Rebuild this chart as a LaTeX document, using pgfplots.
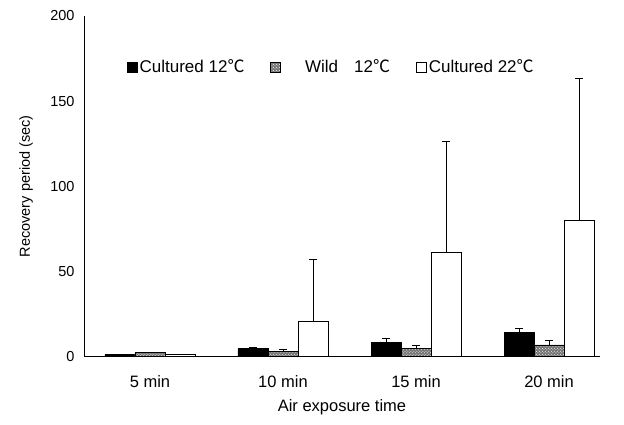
\documentclass[border=0pt]{standalone}
\usepackage{pgfplots}
\pgfplotsset{compat=1.18}
\usepackage{fontspec}
\setmainfont{Liberation Sans}
\newfontfamily\cjk{Noto Sans CJK KR}
\usetikzlibrary{patterns}
\newcommand{\degC}{{\cjk ℃}}
\begin{document}
\begin{tikzpicture}
\begin{axis}[
  name=ax,
  scale only axis,
  width=516bp, height=340.5bp,
  xmin=-0.496, xmax=3.383,
  ymin=0, ymax=200,
  axis x line=bottom, axis y line=left,
  axis line style={-, line width=0.8pt},
  xtick={0,1,2,3},
  xticklabels={5 min,10 min,15 min,20 min},
  ytick={0,50,100,150,200},
  major tick length=0pt,
  /pgf/number format/assume math mode=true,
  yticklabel style={font=\fontsize{14.5bp}{16bp}\selectfont, xshift=-6bp},
  xticklabel style={font=\fontsize{16.5bp}{18bp}\selectfont, yshift=-16bp},
  xlabel={Air exposure time},
  ylabel={Recovery period (sec)},
  xlabel style={font=\fontsize{16.5bp}{18bp}\selectfont, at={(axis description cs:0.5,-0.149)}, anchor=center},
  ylabel style={font=\fontsize{14.5bp}{16bp}\selectfont, at={(axis description cs:-0.112,0.5)}, anchor=center},
  ybar,
  bar width=0.2256,
  error bars/y dir=plus,
  error bars/y explicit,
  error bars/error bar style={line width=0.7pt, black},
  error bars/error mark options={rotate=90, mark size=4bp, line width=0.8pt, black},
  legend columns=3,
  legend style={draw=none, fill=none, inner sep=0pt, at={(axis description cs:0.083,0.85)}, anchor=west,
    font=\fontsize{17bp}{19bp}\selectfont,
    /tikz/every even column/.append style={column sep=24bp}},
  legend image code/.code={\draw[#1] (0bp,-5bp) rectangle (10bp,5bp);},
]
\addplot[fill=black, draw=black, line width=0.6pt, bar shift=-0.2256] coordinates
  {(0,1.2) +- (0,0.3) (1,4.6) +- (0,0.6) (2,8.5) +- (0,2.0) (3,14.0) +- (0,2.6)};
\addlegendentry{Cultured 12\degC}
\addplot[fill=black!55, draw=black, line width=0.6pt, postaction={pattern=crosshatch dots, pattern color=white}, bar shift=0] coordinates
  {(0,2.2) +- (0,0.3) (1,3.2) +- (0,0.8) (2,4.6) +- (0,1.8) (3,6.8) +- (0,2.7)};
\addlegendentry{\hspace{22bp}Wild\hspace{16bp}12\degC}
\addplot[fill=white, draw=black, line width=0.8pt, bar shift=0.2256] coordinates
  {(0,1.0) +- (0,0.2) (1,20.7) +- (0,36.1) (2,61.1) +- (0,65.1) (3,79.9) +- (0,83.2)};
\addlegendentry{Cultured 22\degC}
\end{axis}
\pgfresetboundingbox
\path ([shift={(-84bp,-68bp)}]ax.south west) rectangle ([shift={(24bp,16bp)}]ax.north east);
\end{tikzpicture}
\end{document}
